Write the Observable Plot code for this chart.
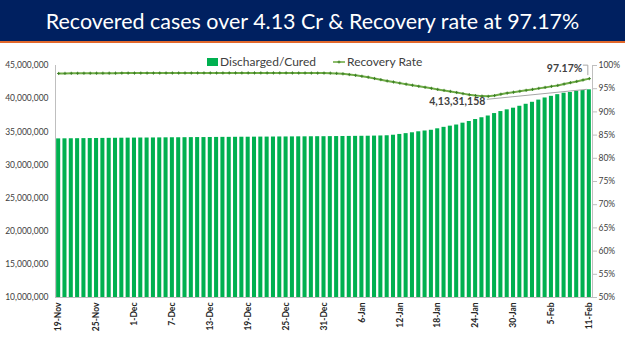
<!DOCTYPE html>
<html><head><meta charset="utf-8">
<script src="https://cdn.jsdelivr.net/npm/d3@7"></script>
<script src="https://cdn.jsdelivr.net/npm/@observablehq/plot@0.6"></script>
<style>
body{margin:0;background:#fff;width:625px;height:351px;overflow:hidden;font-family:Lato,sans-serif}
#title{height:41px;background:#002060;color:#fff;border-bottom:2px solid #e2682b;display:flex;align-items:center;justify-content:center;white-space:nowrap;font-family:Lato,sans-serif}
#wrap{position:relative;width:625px;height:308px}
#legend{position:absolute;left:207px;top:12px;display:flex;align-items:center;font-size:12px;color:#404040;font-family:Lato,sans-serif;line-height:14px}
#legend .sw{display:inline-block;width:11px;height:8px;background:#00b050;margin-right:2px}
#legend svg{margin-left:17px;margin-right:2px}
</style></head>
<body>
<div id="title"></div>
<div id="wrap"><div id="legend"></div></div>
<script>
const titleText = "Recovered cases over 4.13 Cr & Recovery rate at 97.17%";
const seriesNames = ["Discharged/Cured", "Recovery Rate"];

const dates = [
 "19-Nov","20-Nov","21-Nov","22-Nov","23-Nov","24-Nov","25-Nov","26-Nov","27-Nov","28-Nov","29-Nov","30-Nov",
 "1-Dec","2-Dec","3-Dec","4-Dec","5-Dec","6-Dec","7-Dec","8-Dec","9-Dec","10-Dec","11-Dec","12-Dec","13-Dec","14-Dec","15-Dec","16-Dec","17-Dec","18-Dec","19-Dec","20-Dec","21-Dec","22-Dec","23-Dec","24-Dec","25-Dec","26-Dec","27-Dec","28-Dec","29-Dec","30-Dec","31-Dec",
 "1-Jan","2-Jan","3-Jan","4-Jan","5-Jan","6-Jan","7-Jan","8-Jan","9-Jan","10-Jan","11-Jan","12-Jan","13-Jan","14-Jan","15-Jan","16-Jan","17-Jan","18-Jan","19-Jan","20-Jan","21-Jan","22-Jan","23-Jan","24-Jan","25-Jan","26-Jan","27-Jan","28-Jan","29-Jan","30-Jan","31-Jan",
 "1-Feb","2-Feb","3-Feb","4-Feb","5-Feb","6-Feb","7-Feb","8-Feb","9-Feb","10-Feb","11-Feb"
];

// Discharged/Cured, in millions
const dischargedM = [
 33.93,33.94,33.95,33.96,33.97,33.98,33.99,34.00,34.01,34.02,34.03,34.04,
 34.05,34.06,34.06,34.07,34.08,34.09,34.10,34.10,34.11,34.12,34.13,34.13,34.14,34.15,34.16,34.16,34.17,34.18,34.18,34.19,34.20,34.20,34.21,34.22,34.22,34.23,34.24,34.24,34.25,34.26,34.26,
 34.27,34.28,34.29,34.30,34.31,34.32,34.33,34.35,34.37,34.40,34.48,34.60,34.72,34.85,35.00,35.12,35.23,35.45,35.67,35.85,36.02,36.30,36.55,36.85,37.12,37.38,37.75,38.05,38.31,38.56,38.85,
 39.15,39.45,39.78,40.10,40.35,40.60,40.82,40.93,41.12,41.23,41.331158
];

// Recovery rate, %
const recoveryRate = [
 98.28,98.30,98.31,98.32,98.33,98.33,98.34,98.34,98.35,98.35,98.36,98.36,
 98.36,98.36,98.37,98.37,98.37,98.38,98.38,98.38,98.38,98.38,98.39,98.39,98.39,98.39,98.39,98.40,98.40,98.40,98.40,98.40,98.40,98.40,98.40,98.40,98.40,98.39,98.38,98.38,98.37,98.36,98.36,
 98.35,98.30,98.20,98.05,97.88,97.68,97.48,97.20,96.95,96.68,96.45,96.20,95.98,95.75,95.52,95.30,95.08,94.85,94.63,94.42,94.18,93.94,93.71,93.52,93.40,93.35,93.52,93.82,94.05,94.25,94.45,
 94.65,94.85,95.07,95.28,95.50,95.71,96.00,96.30,96.57,96.87,97.17
];

const xTickLabels = ["19-Nov","25-Nov","1-Dec","7-Dec","13-Dec","19-Dec","25-Dec","31-Dec","6-Jan","12-Jan","18-Jan","24-Jan","30-Jan","5-Feb","11-Feb"];
const leftTicks = [10000000,15000000,20000000,25000000,30000000,35000000,40000000,45000000];
const rightTicks = [50,55,60,65,70,75,80,85,90,95,100];
const rateLabel = "97.17%";
const dischargedLabel = "4,13,31,158";

// title, fitted to width
const tEl = document.getElementById("title");
tEl.textContent = titleText;
{
  const c = document.createElement("canvas").getContext("2d");
  c.font = "100px Lato";
  const w = c.measureText(titleText).width;
  tEl.style.fontSize = (535 / w * 100).toFixed(2) + "px";
}

// legend
const lg = document.getElementById("legend");
lg.innerHTML = `<span class="sw"></span><span>${seriesNames[0]}</span>` +
 `<svg width="12" height="8"><line x1="0" y1="4" x2="12" y2="4" stroke="#70ad47" stroke-width="1.6"/><path d="M6,2.5V5.5M4.5,4H7.5" stroke="#3a7d22" stroke-width="0.9"/></svg>` +
 `<span>${seriesNames[1]}</span>`;

const rows = dates.map((d, i) => ({date: d, discharged: dischargedM[i] * 1e6, rate: recoveryRate[i]}));
const yMin = 10e6, yMax = 45e6, rMin = 50, rMax = 100;
const toY = r => yMin + (r - rMin) / (rMax - rMin) * (yMax - yMin);
const fromY = v => rMin + (v - yMin) / (yMax - yMin) * (rMax - rMin);
const last = rows[rows.length - 1];

const chart = Plot.plot({
  width: 625, height: 308,
  marginTop: 22, marginBottom: 54, marginLeft: 55, marginRight: 33,
  style: {fontFamily: "Lato, sans-serif", fontSize: "8.5px", color: "#404040", background: "transparent", overflow: "visible"},
  x: {type: "band", domain: dates, paddingInner: 0.36, paddingOuter: 0.18, round: false, axis: null},
  y: {domain: [yMin, yMax], axis: null},
  marks: [
    Plot.barY(rows, {x: "date", y1: yMin, y2: "discharged", fill: "#00b050"}),
    Plot.ruleY([yMin], {stroke: "#bfbfbf", strokeWidth: 1}),
    Plot.frame({anchor: "left", stroke: "#bfbfbf"}),
    Plot.frame({anchor: "right", stroke: "#bfbfbf"}),
    Plot.axisY({ticks: leftTicks, tickFormat: d3.format(","), tickSize: 0, tickPadding: 7, label: null, fill: "#404040", fontSize: 8.5}),
    Plot.axisY({anchor: "right", ticks: rightTicks.map(toY), tickFormat: v => Math.round(fromY(v)) + "%", tickSize: 4, tickPadding: 2, stroke: "#bfbfbf", label: null, fill: "#404040", fontSize: 8.5}),
    Plot.axisX({ticks: xTickLabels, tickRotate: -90, tickSize: 0, tickPadding: 5, label: null, fontWeight: "bold", fontSize: 8.5, fill: "#262626"}),
    Plot.line(rows, {x: "date", y: d => toY(d.rate), stroke: "#70ad47", strokeWidth: 2}),
    Plot.dot(rows, {x: "date", y: d => toY(d.rate), symbol: "plus", r: 1.1, stroke: "#3a7d22", strokeWidth: 0.9}),
    Plot.text([last], {x: "date", y: d => toY(d.rate), text: () => rateLabel, textAnchor: "end", dx: -7, dy: -10, fontWeight: "bold", fontSize: 10.5, fill: "#404040"}),
    Plot.text([last], {x: "date", y: "discharged", text: () => dischargedLabel, textAnchor: "end", dx: -104, dy: 12, fontWeight: "bold", fontSize: 10.5, fill: "#404040"})
  ]
});
document.getElementById("wrap").appendChild(chart);

// leader lines using the chart's own scales
const xs = chart.scale("x"), ys = chart.scale("y");
const lx = xs.apply(last.date) + xs.bandwidth / 2;
const ry = ys.apply(toY(last.rate));
const by = ys.apply(last.discharged);
const svg = d3.select(chart);
svg.append("path").attr("d", `M${lx - 6},${ry - 13}H${lx - 1}V${ry - 3}`).attr("fill", "none").attr("stroke", "#a6a6a6").attr("stroke-width", 1);
svg.append("path").attr("d", `M${lx - 102},${by + 10}L${lx - 2},${by}`).attr("fill", "none").attr("stroke", "#a6a6a6").attr("stroke-width", 1);
</script>
</body></html>
